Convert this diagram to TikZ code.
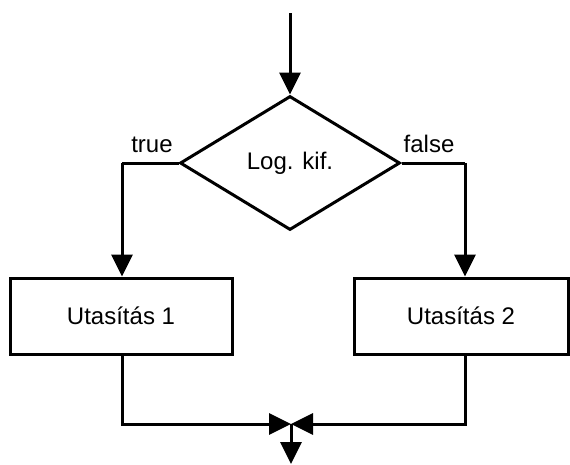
\documentclass[tikz,border=0pt]{standalone}
\usepackage{fontspec}
\setmainfont{Liberation Sans}
\usetikzlibrary{shapes.geometric,arrows.meta}
\tikzset{
  flow/.style={line width=3pt, line join=miter},
  arr/.style={flow, -{Triangle[length=22pt,width=21pt]}},
  stmt/.style={draw, line width=3pt, minimum height=76pt, inner sep=0pt,
    font=\fontsize{24}{28}\selectfont},
  cond/.style={draw, diamond, line width=3pt, minimum width=220pt,
    minimum height=134pt, inner sep=0pt, font=\fontsize{24}{28}\selectfont},
  lbl/.style={font=\fontsize{24}{28}\selectfont, inner sep=0pt, anchor=base}
}
\begin{document}
\begin{tikzpicture}[x=1pt,y=-1pt]
  \useasboundingbox (0,0) rectangle (570,464);
  % decision and the two branches
  \node[cond] (d) at (290,163) {Log. kif.};
  \node[stmt, minimum width=222pt] (b1) at (121,316) {Utasítás 1};
  \node[stmt, minimum width=214pt] (b2) at (461,316) {Utasítás 2};
  % branch labels
  \node[lbl] (t) at (152,152) {true};
  \node[lbl] (f) at (429,152) {false};
  % helper points
  \coordinate (in) at (290,13);
  \coordinate (lc) at (122,163);
  \coordinate (rc) at (465,163);
  \coordinate (m) at (291,424);
  \coordinate (out) at (291,464);
  % connectors
  \draw[arr] (in) -- (d.north);
  \draw[flow] (d.west) -- (lc);
  \draw[arr] (lc) -- (lc |- b1.north);
  \draw[flow] (d.east) -- (rc);
  \draw[arr] (rc) -- (rc |- b2.north);
  \draw[arr] (lc |- b1.south) |- (m);
  \draw[arr] (rc |- b2.south) |- (m);
  \draw[arr] (m) -- (out);
\end{tikzpicture}
\end{document}
